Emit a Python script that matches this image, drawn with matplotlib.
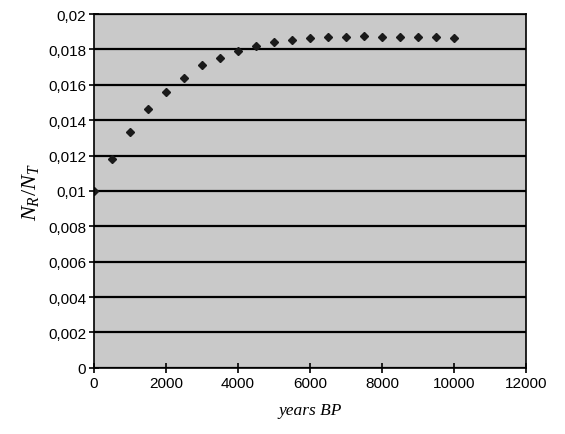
import matplotlib.pyplot as plt
from matplotlib.ticker import FuncFormatter

# serif italic for the math label
plt.rcParams['mathtext.fontset'] = 'custom'
plt.rcParams['mathtext.it'] = 'Liberation Serif:italic'
plt.rcParams['mathtext.rm'] = 'Liberation Serif'

# data
years = [0, 500, 1000, 1500, 2000, 2500, 3000, 3500, 4000, 4500, 5000,
         5500, 6000, 6500, 7000, 7500, 8000, 8500, 9000, 9500, 10000]
ratio = [0.0100, 0.01183, 0.01332, 0.01465, 0.01559, 0.01640, 0.01709,
         0.01754, 0.01789, 0.01817, 0.01840, 0.01851, 0.01863, 0.01869,
         0.01872, 0.01878, 0.01872, 0.01869, 0.01871, 0.01871, 0.01863]

x_ticks = [0, 2000, 4000, 6000, 8000, 10000, 12000]
y_ticks = [0, 0.002, 0.004, 0.006, 0.008, 0.01, 0.012, 0.014, 0.016, 0.018, 0.02]

fig = plt.figure(figsize=(5.65, 4.35), dpi=100)
ax = fig.add_axes([0.166, 0.152, 0.765, 0.8135])

ax.set_facecolor('#c9c9c9')
ax.plot(years, ratio, linestyle='none', marker='D', markersize=4.2,
        color='#1a1a1a')

ax.set_xlim(0, 12000)
ax.set_ylim(0, 0.02)
ax.set_xticks(x_ticks)
ax.set_yticks(y_ticks)
ax.yaxis.set_major_formatter(FuncFormatter(lambda v, p: '{:g}'.format(round(v, 4)).replace('.', ',')))

# black horizontal grid lines
ax.grid(axis='y', color='black', linewidth=1.6)
ax.set_axisbelow(True)

for s in ax.spines.values():
    s.set_color('black')
    s.set_linewidth(1.2)

ax.tick_params(direction='inout', length=7, width=1.2, labelsize=11, pad=2)
for lab in ax.get_xticklabels() + ax.get_yticklabels():
    lab.set_family('Liberation Sans')

ax.set_xlabel('years BP', family='Liberation Serif', style='italic',
              fontsize=12.5, labelpad=9)
ax.set_ylabel(r'$N_R/N_T$', fontsize=16, labelpad=5)

fig.savefig('out.png', dpi=100)
